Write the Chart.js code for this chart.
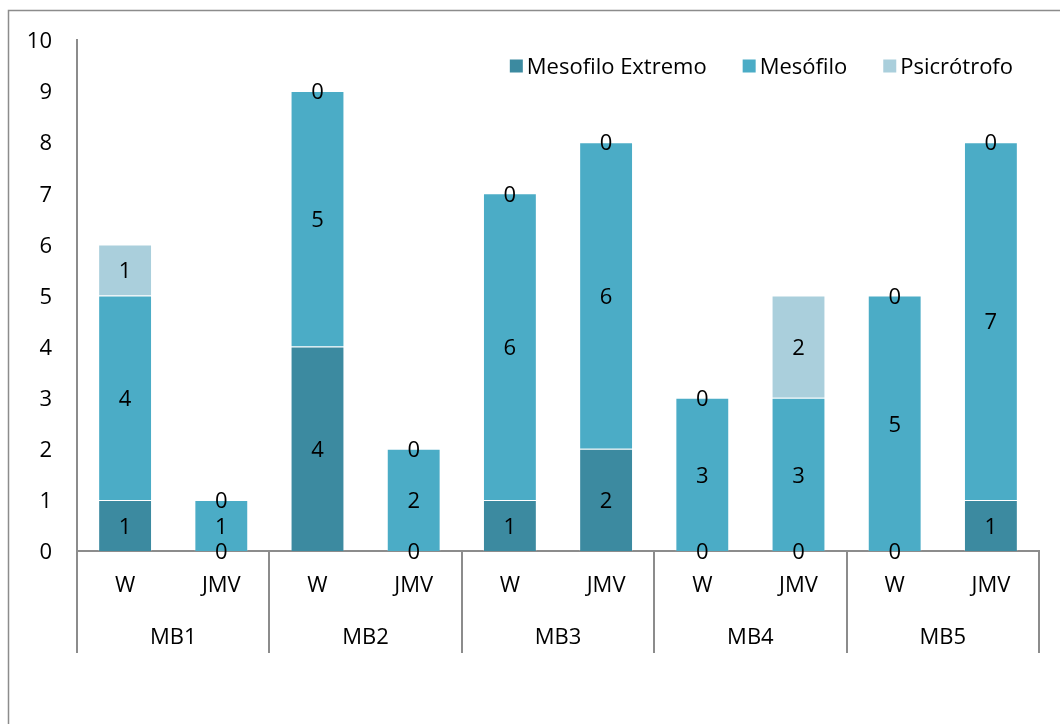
<!DOCTYPE html>
<html>
<head>
<meta charset="utf-8">
<title>Clasificación por temperatura</title>
<script src="https://cdn.jsdelivr.net/npm/chart.js@4.4.0/dist/chart.umd.min.js"></script>
<style>
  html, body { margin: 0; padding: 0; background: #fff; }
  canvas { display: block; }
</style>
</head>
<body>
<canvas id="myChart" width="1060" height="724"></canvas>
<script>
const FONT = '"Open Sans", sans-serif';

/* data */
const muestras = ['W', 'JMV', 'W', 'JMV', 'W', 'JMV', 'W', 'JMV', 'W', 'JMV'];
const grupos = ['MB1', 'MB2', 'MB3', 'MB4', 'MB5'];
const mesofiloExtremo = [1, 0, 4, 0, 1, 2, 0, 0, 0, 1];
const mesofilo = [4, 1, 5, 2, 6, 6, 3, 3, 5, 7];
const psicrotrofo = [1, 0, 0, 0, 0, 0, 0, 2, 0, 0];

const colores = ['#3c8aa0', '#4bacc6', '#aacfdc'];

/* white page + outer frame */
const frame = {
	id: 'frame',
	beforeDraw(chart) {
		const c = chart.ctx;
		c.save();
		c.fillStyle = '#fff';
		c.fillRect(0, 0, chart.width, chart.height);
		c.strokeStyle = '#8c8c8c';
		c.lineWidth = 1.5;
		c.strokeRect(8.5, 10.5, chart.width + 20, chart.height + 20);
		c.restore();
	}
};

/* value written in the middle of each segment */
const valueLabels = {
	id: 'valueLabels',
	afterDatasetsDraw(chart) {
		const c = chart.ctx;
		c.save();
		c.font = '22px ' + FONT;
		c.fillStyle = '#000';
		c.textAlign = 'center';
		c.textBaseline = 'middle';
		chart.data.datasets.forEach((ds, i) => {
			chart.getDatasetMeta(i).data.forEach((bar, j) => {
				c.fillText(String(ds.data[j]), bar.x, (bar.y + bar.base) / 2 + 2);
			});
		});
		c.restore();
	}
};

/* group separators under the axis */
const separators = {
	id: 'separators',
	afterDraw(chart) {
		const xs = chart.scales.x;
		const x2 = chart.scales.x2;
		const w = xs.width / muestras.length;
		const c = chart.ctx;
		c.save();
		c.strokeStyle = '#8c8c8c';
		c.lineWidth = 2;
		for (let g = 0; g <= grupos.length; g++) {
			const px = Math.round(xs.left + g * 2 * w);
			c.beginPath();
			c.moveTo(px, xs.top);
			c.lineTo(px, x2.bottom);
			c.stroke();
		}
		c.restore();
	}
};

/* legend, top right inside the plot */
const legendBox = {
	id: 'legendBox',
	afterDraw(chart) {
		const c = chart.ctx;
		const size = 13, gapText = 4, gapItem = 36;
		const rightEdge = 1013, cy = 66;
		c.save();
		c.font = '22px ' + FONT;
		c.textBaseline = 'middle';
		c.textAlign = 'left';
		const items = chart.data.datasets.map(ds => ({
			label: ds.label, color: ds.backgroundColor, w: c.measureText(ds.label).width
		}));
		let total = 0;
		items.forEach((it, i) => { total += size + gapText + it.w + (i ? gapItem : 0); });
		let x = rightEdge - total;
		items.forEach(it => {
			c.fillStyle = it.color;
			c.fillRect(x, cy - size / 2, size, size);
			c.fillStyle = '#000';
			c.fillText(it.label, x + size + gapText, cy + 2);
			x += size + gapText + it.w + gapItem;
		});
		c.restore();
	}
};

const ctx = document.getElementById('myChart');

new Chart(ctx, {
	type: 'bar',
	data: {
		labels: muestras,
		datasets: [
			{ label: 'Mesofilo Extremo', data: mesofiloExtremo, backgroundColor: colores[0] },
			{ label: 'Mesófilo', data: mesofilo, backgroundColor: colores[1] },
			{ label: 'Psicrótrofo', data: psicrotrofo, backgroundColor: colores[2] }
		]
	},
	options: {
		responsive: false,
		animation: false,
		datasets: {
			bar: {
				categoryPercentage: 1,
				barPercentage: 0.56,
				borderWidth: 1,
				borderColor: 'rgba(255,255,255,0.2)'
			}
		},
		layout: { padding: { left: 0, top: 40, right: 21, bottom: 71 } },
		plugins: {
			legend: { display: false },
			tooltip: { enabled: false }
		},
		scales: {
			y: {
				stacked: true,
				min: 0,
				max: 10,
				ticks: { stepSize: 1, color: '#000', font: { family: FONT, size: 22 }, padding: 25, labelOffset: 2 },
				grid: { display: false, drawTicks: false },
				border: { display: true, color: '#8c8c8c', width: 2 },
				afterFit(scale) { scale.width = 77; }
			},
			x: {
				stacked: true,
				ticks: { color: '#000', font: { family: FONT, size: 22 }, padding: 22, maxRotation: 0, autoSkip: false },
				grid: { display: false, drawTicks: false },
				border: { display: true, color: '#8c8c8c', width: 2 },
				afterFit(scale) { scale.height = 52; }
			},
			x2: {
				type: 'category',
				labels: grupos,
				position: 'bottom',
				offset: true,
				ticks: { color: '#000', font: { family: FONT, size: 22 }, padding: 22, maxRotation: 0 },
				grid: { display: false, drawTicks: false },
				border: { display: false },
				afterFit(scale) { scale.height = 50; }
			}
		}
	},
	plugins: [frame, valueLabels, separators, legendBox]
});
</script>
</body>
</html>
